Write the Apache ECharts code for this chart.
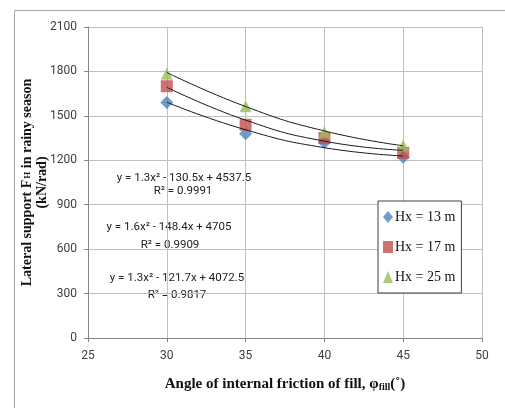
<!DOCTYPE html>
<html>
<head>
<meta charset="utf-8">
<script src="https://cdn.jsdelivr.net/npm/echarts@6/dist/echarts.min.js"></script>
<style>
    html, body { margin: 0; padding: 0; background: #fff; }
    #chart { width: 505px; height: 408px; }
</style>
</head>
<body>
<div id="chart"></div>
<script>
    // angle of internal friction (deg)
    var phi = [30, 35, 40, 45];
    var seriesNames = ['Hx = 13 m', 'Hx = 17 m', 'Hx = 25 m'];
    // lateral support (kN/rad)
    var hx13 = [1590, 1380, 1320, 1220];
    var hx17 = [1700, 1440, 1350, 1250];
    var hx25 = [1785, 1565, 1390, 1300];
    // polynomial trendline values at the same angles
    var trend13 = [1592, 1406, 1285, 1229];
    var trend17 = [1693, 1471, 1329, 1267];
    var trend25 = [1793, 1563, 1398, 1298];
    var yTicks = [0, 300, 600, 900, 1200, 1500, 1800, 2100];
    var xTicks = [25, 30, 35, 40, 45, 50];

    var colors = ['#4F81BD', '#C0504D', '#9BBB59'];
    var symbols = ['diamond', 'rect', 'triangle'];
    var eqFont = "Roboto, 'Liberation Sans', sans-serif";
    var serif = "'Liberation Serif', 'DejaVu Serif', serif";

    function pairs(vals) {
        return phi.map(function (x, i) { return [x, vals[i]]; });
    }

    var chart = echarts.init(document.getElementById('chart'));

    var pointSeries = [hx13, hx17, hx25].map(function (vals, i) {
        return {
            name: seriesNames[i],
            type: 'scatter',
            data: pairs(vals),
            symbol: symbols[i],
            symbolSize: i === 0 ? 13 : 12,
            itemStyle: { color: colors[i] },
            z: 2
        };
    });

    var trendSeries = [trend13, trend17, trend25].map(function (vals) {
        return {
            type: 'line',
            data: pairs(vals),
            smooth: 0.5,
            showSymbol: false,
            symbol: 'none',
            lineStyle: { color: '#1a1a1a', width: 1 },
            silent: true,
            z: 3
        };
    });

    function eqText(x, y, s) {
        return {
            type: 'text', x: x, y: y, silent: true,
            style: { text: s, font: '11.5px ' + eqFont, fill: '#222', align: 'center', verticalAlign: 'middle' }
        };
    }

    chart.setOption({
        animation: false,
        grid: { left: 88, right: 23, top: 27, bottom: 70 },
        xAxis: {
            type: 'value', min: 25, max: 50, interval: 5,
            name: '{b|Angle of internal friction of fill, φ}{s|fill}{b|(˚)}',
            nameLocation: 'middle', nameGap: 38,
            nameMoveOverlap: false,
            nameTextStyle: {
                rich: {
                    b: { fontFamily: serif, fontWeight: 'bold', fontSize: 15, color: '#111' },
                    s: { fontFamily: serif, fontWeight: 'bold', fontSize: 10, color: '#111', padding: [6, 0, 0, 0] }
                }
            },
            axisLine: { lineStyle: { color: '#868686' } },
            axisTick: { show: true, length: 4, lineStyle: { color: '#868686' } },
            axisLabel: { margin: 12, fontFamily: eqFont, fontSize: 12, color: '#404040' },
            splitLine: { show: true, lineStyle: { color: '#bfbfbf' } }
        },
        yAxis: {
            type: 'value', min: 0, max: 2100, interval: 300,
            name: '{b|Lateral support F}{s|H}{b| in rainy season}\n{b|(kN/rad)}',
            nameLocation: 'middle', nameGap: 38,
            nameMoveOverlap: false,
            nameTextStyle: {
                lineHeight: 15,
                rich: {
                    b: { fontFamily: serif, fontWeight: 'bold', fontSize: 14, color: '#111', lineHeight: 15 },
                    s: { fontFamily: serif, fontWeight: 'bold', fontSize: 9, color: '#111', lineHeight: 15, padding: [0, 0, 0, 1] }
                }
            },
            axisLine: { show: true, lineStyle: { color: '#868686' } },
            axisTick: { show: true, length: 4, lineStyle: { color: '#868686' } },
            axisLabel: {
                margin: 11, fontFamily: eqFont, fontSize: 12, color: '#404040',
                formatter: function (v) { return String(v); }
            },
            splitLine: { show: true, lineStyle: { color: '#bfbfbf' } }
        },
        legend: {
            orient: 'vertical',
            left: 378, top: 201,
            padding: [9, 6, 9, 5],
            itemGap: 16,
            itemWidth: 10, itemHeight: 12,
            backgroundColor: '#fff',
            borderColor: '#404040', borderWidth: 1,
            data: seriesNames.map(function (n, i) { return { name: n, icon: symbols[i] }; }),
            textStyle: { fontFamily: serif, fontSize: 14, color: '#111', padding: [0, 0, 0, -3] }
        },
        graphic: [
            {
                type: 'rect', left: 12, top: 8, silent: true, z: -10,
                shape: { width: 500, height: 410 },
                style: { fill: 'none', stroke: '#a6a6a6', lineWidth: 1 }
            },
            eqText(184, 178, 'y = 1.3x² - 130.5x + 4537.5'),
            eqText(183, 191, 'R² = 0.9991'),
            eqText(169, 227, 'y = 1.6x² - 148.4x + 4705'),
            eqText(170, 245, 'R² = 0.9909'),
            eqText(177, 278, 'y = 1.3x² - 121.7x + 4072.5'),
            eqText(177, 295, 'R² = 0.9817')
        ],
        series: pointSeries.concat(trendSeries)
    });
</script>
</body>
</html>
